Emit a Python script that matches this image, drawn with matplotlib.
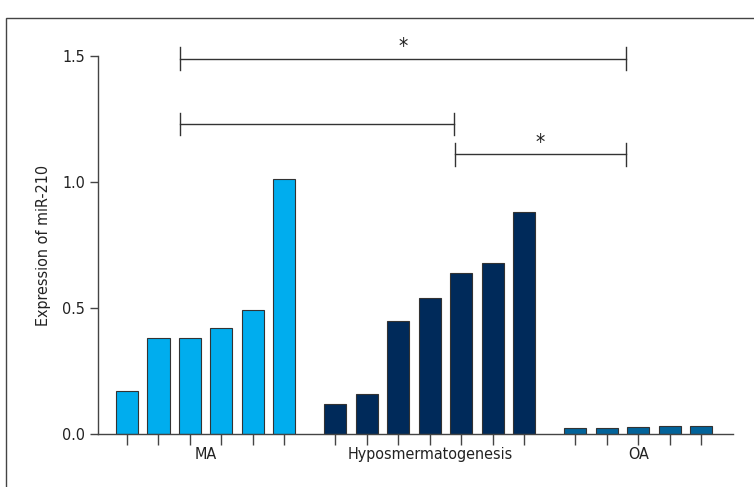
import matplotlib.pyplot as plt
from matplotlib.patches import Rectangle

# Данные
groups = ["MA", "Hyposmermatogenesis", "OA"]
ma_vals = [0.17, 0.38, 0.38, 0.42, 0.49, 1.01]
hypo_vals = [0.12, 0.16, 0.45, 0.54, 0.64, 0.68, 0.88]
oa_vals = [0.025, 0.025, 0.028, 0.032, 0.032]
colors = ["#00ADEE", "#002A5A", "#02639A"]

# скобки значимости: (x1, x2, y, подпись)
brackets = [(1.68, 15.84, 1.49, "*"), (1.68, 10.38, 1.23, ""), (10.4, 15.84, 1.11, "*")]

plt.rcParams['font.family'] = ['DejaVu Sans']
plt.rcParams['font.stretch'] = 'condensed'

fig = plt.figure(figsize=(7.54, 4.87), dpi=100)
ax = fig.add_axes([0.130, 0.109, 0.842, 0.776])

starts = [0, 6.62, 14.24]
all_vals = [ma_vals, hypo_vals, oa_vals]
ticks = []
for st, vals, c in zip(starts, all_vals, colors):
    xs = [st + i for i in range(len(vals))]
    ax.bar(xs, vals, width=0.7, color=c, edgecolor="#333333", linewidth=0.8)
    ticks += xs
    ax.text(sum(xs) / len(xs), -0.05, groups[starts.index(st)], ha="center", va="top",
            fontsize=11.5, color="#222222")

for x1, x2, y, lab in brackets:
    ax.plot([x1, x2], [y, y], color="#333333", lw=1, clip_on=False)
    ax.plot([x1, x1], [y - 0.045, y + 0.045], color="#333333", lw=1, clip_on=False)
    ax.plot([x2, x2], [y - 0.045, y + 0.045], color="#333333", lw=1, clip_on=False)
    if lab:
        ax.text((x1 + x2) / 2, y + 0.005, lab, ha="center", va="bottom", fontsize=15, color="#222222")

ax.set_xlim(-0.92, 19.24)
ax.set_ylim(0, 1.5)
ax.set_yticks([0, 0.5, 1.0, 1.5])
ax.set_yticklabels(["0.0", "0.5", "1.0", "1.5"])
ax.set_xticks(ticks)
ax.set_xticklabels([])
ax.tick_params(axis="x", length=8, width=1, color="#444444")
ax.tick_params(axis="y", length=6, width=1, color="#444444", labelsize=11.5, labelcolor="#222222")
ax.spines["top"].set_visible(False)
ax.spines["right"].set_visible(False)
for s in ["left", "bottom"]:
    ax.spines[s].set_color("#444444")
    ax.spines[s].set_linewidth(1)
ax.set_ylabel("Expression of miR-210", fontsize=11.5, color="#222222", labelpad=8)

# рамка вокруг рисунка
fig.patches.append(Rectangle((0.008, -0.1), 1.1, 1.064, transform=fig.transFigure,
                             fill=False, edgecolor="#444444", lw=1))

fig.savefig("out.png", dpi=100)
